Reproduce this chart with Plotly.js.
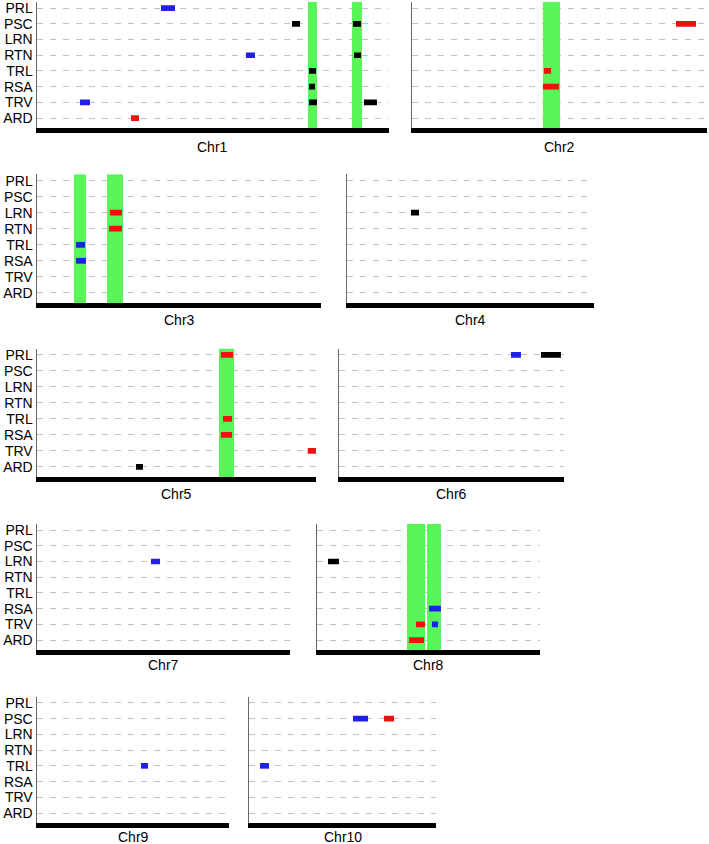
<!DOCTYPE html>
<html>
<head>
<meta charset="utf-8">
<script src="https://cdn.plot.ly/plotly-3.0.1.min.js"></script>
<style>
  html,body{margin:0;padding:0;background:#fff}
  #chart{width:709px;height:844px}
</style>
</head>
<body>
<div id="chart"></div>
<script>
// QTL map of root traits across 10 chromosomes (positions in Mb)
const chromosomes = ['Chr1','Chr2','Chr3','Chr4','Chr5','Chr6','Chr7','Chr8','Chr9','Chr10'];
const chrLength = [301, 252.3, 242.9, 211.2, 238.6, 192.4, 216.4, 190.7, 164.2, 159.9];
const traits = ['PRL','PSC','LRN','RTN','TRL','RSA','TRV','ARD'];

// [chromosome, trait, start, end]
const blueMarks = [
  [1,'PRL',106.0,118.0], [1,'RTN',178.7,186.4], [1,'TRV',36.8,45.3],
  [3,'TRL',33.4,41.0], [3,'RSA',33.4,41.9],
  [6,'PRL',147.1,155.6],
  [7,'LRN',97.5,105.2],
  [8,'RSA',95.8,106.0], [8,'TRV',98.3,103.5],
  [9,'TRL',88.9,94.9],
  [10,'PSC',88.9,101.8], [10,'TRL',9.4,17.1]
];
const redMarks = [
  [1,'ARD',80.4,87.2],
  [2,'PSC',225.8,242.9], [2,'TRL',112.9,118.9], [2,'RSA',112.0,125.7],
  [3,'LRN',62.4,72.7], [3,'RTN',61.6,72.7],
  [5,'PRL',157.3,167.6], [5,'TRL',159.1,166.8], [5,'RSA',157.3,166.8], [5,'TRV',231.5,239.0],
  [8,'TRV',84.7,92.4], [8,'ARD',78.7,91.5],
  [10,'PSC',115.4,124.0]
];
const blackMarks = [
  [1,'PSC',218.1,224.9], [1,'PSC',270.2,277.1], [1,'RTN',271.1,277.1],
  [1,'TRL',232.6,238.6], [1,'RSA',232.6,237.7], [1,'TRV',232.6,239.4], [1,'TRV',279.6,290.7],
  [4,'LRN',54.7,61.6],
  [5,'ARD',84.7,90.6],
  [6,'PRL',172.7,189.8],
  [8,'LRN',9.4,18.8]
];
// [chromosome, start, end]
const greenRegions = [
  [1,231.7,239.4], [1,269.4,277.9],
  [2,112.0,126.6],
  [3,31.6,41.9], [3,59.9,73.5],
  [5,155.6,168.5],
  [8,77.0,92.4], [8,94.1,106.0]
];

(function(){
  const W = 709, H = 844;
  // panel placement in px: [left, right] per chromosome, [top, bottom] per row
  const panelX = [[37,389],[412,707],[37,321],[347,594],[37,316],[339,564],[37,290],[317,540],[37,229],[249,436]];
  const rowY = [[1.8,128],[174.2,303],[348.5,477],[523.8,650],[696.6,823]];
  const labelY = [147, 320, 494, 665, 837];
  const yRange = [-0.63, 7.4];

  const colors = {blue:'#1f1fe8', red:'#ee1111', black:'#000000', green:'#58f558'};
  const yIndex = t => traits.length-1 - traits.indexOf(t);
  const axId = i => i===0 ? '' : String(i+1);

  const traces = [];
  const layout = {
    width:W, height:H, margin:{l:0,r:0,t:0,b:0},
    paper_bgcolor:'#fff', plot_bgcolor:'#fff',
    showlegend:false, barmode:'overlay',
    font:{family:'Arial, Liberation Sans, sans-serif', size:14, color:'#000'},
    annotations:[]
  };

  // green regions: full-height vertical bars, drawn first so marks sit on top
  chromosomes.forEach((c,i)=>{
    const rows = greenRegions.filter(g=>g[0]===i+1);
    if(!rows.length) return;
    traces.push({
      type:'bar', orientation:'v',
      xaxis:'x'+axId(i), yaxis:'y'+axId(i),
      x: rows.map(g=>(g[1]+g[2])/2),
      width: rows.map(g=>g[2]-g[1]),
      base: rows.map(()=>yRange[0]),
      y: rows.map(()=>yRange[1]-yRange[0]),
      marker:{color:colors.green, line:{width:0}},
      hoverinfo:'skip'
    });
  });

  function addMarks(list, color){
    chromosomes.forEach((c,i)=>{
      const rows = list.filter(m=>m[0]===i+1);
      if(!rows.length) return;
      traces.push({
        type:'bar', orientation:'h',
        xaxis:'x'+axId(i), yaxis:'y'+axId(i),
        y: rows.map(m=>yIndex(m[1])),
        base: rows.map(m=>m[2]),
        x: rows.map(m=>m[3]-m[2]),
        width:0.36, marker:{color:color, line:{width:0}},
        hoverinfo:'skip'
      });
    });
  }
  addMarks(blueMarks, colors.blue);
  addMarks(redMarks, colors.red);
  addMarks(blackMarks, colors.black);

  chromosomes.forEach((c,i)=>{
    const n = axId(i);
    const row = Math.floor(i/2);
    const px = panelX[i], py = rowY[row];
    layout['xaxis'+n] = {
      anchor:'y'+n, domain:[px[0]/W, px[1]/W], range:[0, chrLength[i]],
      showgrid:false, zeroline:false, showticklabels:false, ticks:'',
      showline:true, linecolor:'#000', linewidth:5, fixedrange:true
    };
    layout['yaxis'+n] = {
      anchor:'x'+n, domain:[1-py[1]/H, 1-py[0]/H], range:yRange.slice(),
      tickmode:'array', tickvals: traits.map((t,k)=>traits.length-1-k), ticktext: traits,
      showticklabels: i%2===0, ticks:'', ticklabeloverflow:'allow',
      showgrid:true, gridcolor:'#c2c2c2', gridwidth:1, griddash:'6px,7px',
      zeroline:false, showline:true, linecolor:'#666', linewidth:1.5,
      tickfont:{size:14, color:'#000'}, fixedrange:true
    };
    layout.annotations.push({
      text:c, xref:'paper', yref:'paper', showarrow:false,
      x:(px[0]+px[1])/2/W, y:1-labelY[row]/H, xanchor:'center', yanchor:'middle',
      font:{size:14, color:'#000'}
    });
  });

  Plotly.newPlot('chart', traces, layout, {displayModeBar:false, staticPlot:true});
})();
</script>
</body>
</html>
